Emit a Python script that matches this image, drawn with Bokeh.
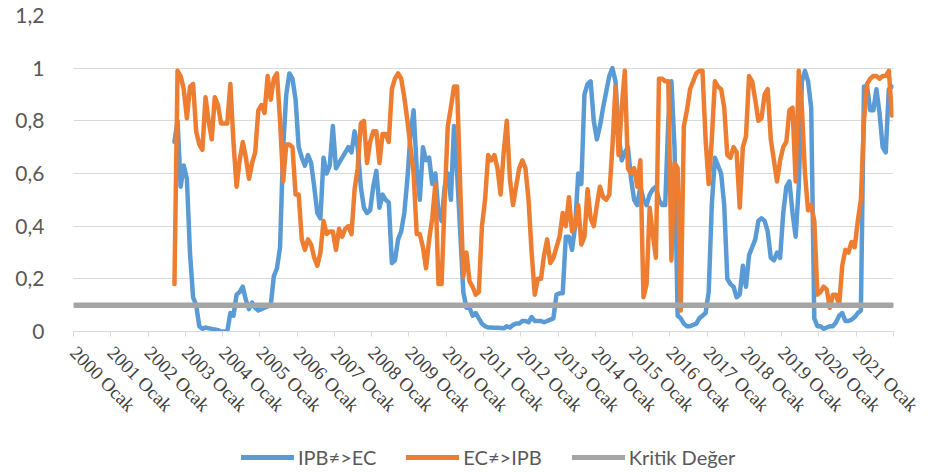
import math
from bokeh.plotting import figure
from bokeh.layouts import column
from bokeh.models import Range1d, FixedTicker, Legend, LegendItem
from bokeh.embed import file_html
from bokeh.resources import INLINE

# ---------------- data ----------------
years = list(range(2000, 2022))
tick_labels = [f"{y} Ocak" for y in years]
first_month = 32          # index of first observation (2002 Eylül), months counted from 2000 Ocak
n_months = 264            # 2000 Ocak ... 2021 Aralık

ipb_ec = [
    0.72, 0.80, 0.55, 0.63,                                                  # 2002 Eyl-Ara
    0.58, 0.30, 0.13, 0.10, 0.02, 0.01, 0.015, 0.012, 0.01, 0.008, 0.005, 0.0,  # 2003
    0.0, 0.0, 0.07, 0.06, 0.14, 0.15, 0.17, 0.12, 0.085, 0.11, 0.09, 0.08,       # 2004
    0.085, 0.09, 0.095, 0.10, 0.21, 0.24, 0.32, 0.70, 0.90, 0.98, 0.96, 0.88,    # 2005
    0.70, 0.66, 0.63, 0.67, 0.64, 0.55, 0.45, 0.43, 0.66, 0.60, 0.63, 0.78,      # 2006
    0.62, 0.64, 0.66, 0.68, 0.70, 0.68, 0.76, 0.70, 0.55, 0.47, 0.45, 0.46,      # 2007
    0.55, 0.61, 0.47, 0.52, 0.50, 0.49, 0.26, 0.27, 0.35, 0.38, 0.45, 0.58,      # 2008
    0.75, 0.84, 0.62, 0.50, 0.70, 0.65, 0.66, 0.56, 0.60, 0.45, 0.42, 0.55,      # 2009
    0.60, 0.50, 0.78, 0.60, 0.38, 0.15, 0.09, 0.09, 0.06, 0.07, 0.05, 0.03,      # 2010
    0.02, 0.015, 0.015, 0.014, 0.014, 0.013, 0.012, 0.02, 0.015, 0.025, 0.03, 0.03,  # 2011
    0.04, 0.04, 0.035, 0.055, 0.04, 0.04, 0.04, 0.035, 0.04, 0.045, 0.05, 0.14,  # 2012
    0.145, 0.145, 0.36, 0.36, 0.31, 0.40, 0.60, 0.56, 0.90, 0.94, 0.95, 0.80,    # 2013
    0.73, 0.78, 0.85, 0.91, 0.97, 1.0, 0.95, 0.75, 0.65, 0.68, 0.70, 0.58,       # 2014
    0.50, 0.48, 0.55, 0.50, 0.48, 0.52, 0.54, 0.55, 0.50, 0.48, 0.48, 0.80,      # 2015
    0.95, 0.70, 0.06, 0.05, 0.03, 0.02, 0.02, 0.025, 0.03, 0.05, 0.06, 0.07,     # 2016
    0.15, 0.48, 0.66, 0.63, 0.60, 0.48, 0.20, 0.18, 0.17, 0.13, 0.14, 0.25,      # 2017
    0.17, 0.29, 0.32, 0.35, 0.42, 0.43, 0.42, 0.38, 0.28, 0.27, 0.30, 0.28,      # 2018
    0.45, 0.55, 0.57, 0.45, 0.36, 0.55, 0.95, 0.99, 0.95, 0.85, 0.05, 0.02,      # 2019
    0.02, 0.01, 0.015, 0.02, 0.02, 0.035, 0.06, 0.07, 0.04, 0.04, 0.045, 0.055,  # 2020
    0.07, 0.08, 0.93, 0.93, 0.84, 0.84, 0.92, 0.83, 0.70, 0.68, 0.92, 0.93,      # 2021
]

ec_ipb = [
    0.18, 0.99, 0.97, 0.92,                                                  # 2002 Eyl-Ara
    0.81, 0.93, 0.94, 0.76, 0.71, 0.69, 0.89, 0.80, 0.73, 0.89, 0.86, 0.79,      # 2003
    0.79, 0.79, 0.94, 0.72, 0.55, 0.65, 0.72, 0.66, 0.58, 0.64, 0.68, 0.84,      # 2004
    0.86, 0.83, 0.97, 0.88, 0.96, 0.98, 0.80, 0.57, 0.71, 0.71, 0.70, 0.52,      # 2005
    0.52, 0.35, 0.31, 0.35, 0.33, 0.28, 0.25, 0.30, 0.42, 0.37, 0.38, 0.38,      # 2006
    0.31, 0.39, 0.36, 0.39, 0.40, 0.37, 0.54, 0.62, 0.79, 0.80, 0.64, 0.72,      # 2007
    0.76, 0.76, 0.64, 0.75, 0.75, 0.72, 0.92, 0.96, 0.98, 0.96, 0.89, 0.80,      # 2008
    0.70, 0.60, 0.37, 0.37, 0.32, 0.24, 0.35, 0.43, 0.56, 0.18, 0.18, 0.50,      # 2009
    0.78, 0.85, 0.93, 0.93, 0.55, 0.21, 0.30, 0.19, 0.17, 0.14, 0.15, 0.40,      # 2010
    0.50, 0.67, 0.65, 0.67, 0.62, 0.52, 0.68, 0.80, 0.58, 0.48, 0.55, 0.62,      # 2011
    0.65, 0.62, 0.50, 0.30, 0.14, 0.20, 0.20, 0.29, 0.35, 0.26, 0.28, 0.32,      # 2012
    0.36, 0.45, 0.40, 0.51, 0.38, 0.40, 0.48, 0.33, 0.36, 0.54, 0.43, 0.40,      # 2013
    0.48, 0.55, 0.51, 0.50, 0.52, 0.70, 0.93, 0.67, 0.85, 0.99, 0.62, 0.60,      # 2014
    0.62, 0.55, 0.65, 0.13, 0.18, 0.47, 0.37, 0.28, 0.96, 0.96, 0.95, 0.95,      # 2015
    0.27, 0.64, 0.62, 0.08, 0.78, 0.84, 0.92, 0.95, 0.98, 0.99, 0.99, 0.73,      # 2016
    0.56, 0.73, 0.95, 0.93, 0.92, 0.85, 0.67, 0.66, 0.70, 0.68, 0.47, 0.70,      # 2017
    0.74, 0.97, 0.95, 0.88, 0.80, 0.81, 0.90, 0.92, 0.73, 0.65, 0.57, 0.65,      # 2018
    0.70, 0.72, 0.84, 0.85, 0.57, 0.99, 0.85, 0.60, 0.46, 0.48, 0.42, 0.14,      # 2019
    0.15, 0.17, 0.16, 0.09, 0.14, 0.14, 0.10, 0.25, 0.31, 0.30, 0.34, 0.32,      # 2020
    0.42, 0.50, 0.80, 0.94, 0.96, 0.97, 0.97, 0.96, 0.97, 0.97, 0.99, 0.82,      # 2021
]

kritik_deger = 0.1

y_ticks = [0, 0.2, 0.4, 0.6, 0.8, 1.0, 1.2]
y_tick_labels = ["0", "0,2", "0,4", "0,6", "0,8", "1", "1,2"]

series_names = ["IPB≠>EC", "EC≠>IPB", "Kritik Değer"]
series_colors = ["#5b9bd5", "#ed7d31", "#a5a5a5"]

# ---------------- positions (category centres) ----------------
x_series = [first_month + k + 0.5 for k in range(len(ipb_ec))]
x_all = [k + 0.5 for k in range(n_months)]
y_crit = [kritik_deger] * n_months

W = 926
H_MAIN = 428
H_LEG = 42

# ---------------- main chart ----------------
p = figure(width=W, height=H_MAIN, output_backend="svg", toolbar_location=None,
           x_range=Range1d(0, n_months), y_range=Range1d(0, 1.2),
           min_border_left=73, min_border_right=W - 893, min_border_top=15,
           min_border_bottom=H_MAIN - 331)
p.outline_line_color = None
p.background_fill_color = "white"
p.border_fill_color = "white"

line_styles = dict(line_join="round", line_cap="round")
r1 = p.line(x_series, ipb_ec, line_color=series_colors[0], line_width=4.5, **line_styles)
r2 = p.line(x_series, ec_ipb, line_color=series_colors[1], line_width=4.5, **line_styles)
r3 = p.line(x_all, y_crit, line_color=series_colors[2], line_width=5.5, **line_styles)

# x axis
x_tick_pos = [12 * k for k in range(len(years) + 1)]
p.xaxis.ticker = FixedTicker(ticks=x_tick_pos)
overrides = {12 * k: lab for k, lab in enumerate(tick_labels)}
overrides[12 * len(years)] = ""
p.xaxis.major_label_overrides = overrides
p.xaxis.major_label_orientation = -math.pi / 4
p.xaxis.axis_line_color = "#d9d9d9"
p.xaxis.axis_line_width = 1
p.xaxis.major_tick_line_color = "#d9d9d9"
p.xaxis.major_tick_out = 5
p.xaxis.major_tick_in = 0
p.xaxis.minor_tick_line_color = None
p.xaxis.major_label_text_font = "Liberation Serif"
p.xaxis.major_label_text_font_size = "19px"
p.xaxis.major_label_text_color = "#404040"
p.xaxis.major_label_standoff = 13
p.xgrid.grid_line_color = None

# y axis
p.yaxis.ticker = FixedTicker(ticks=y_ticks)
p.yaxis.major_label_overrides = {t: l for t, l in zip(y_ticks, y_tick_labels)}
p.yaxis.axis_line_color = None
p.yaxis.major_tick_line_color = None
p.yaxis.minor_tick_line_color = None
p.yaxis.major_label_text_font = "Lato"
p.yaxis.major_label_text_font_size = "21px"
p.yaxis.major_label_text_color = "#595959"
p.yaxis.major_label_standoff = 23
p.ygrid.ticker = FixedTicker(ticks=y_ticks)
p.ygrid.grid_line_color = "#d9d9d9"
p.ygrid.grid_line_width = 1

# ---------------- legend strip ----------------
q = figure(width=W, height=H_LEG, output_backend="svg", toolbar_location=None,
           x_range=Range1d(-10, -9), y_range=Range1d(-10, -9),
           min_border_left=0, min_border_right=0, min_border_top=0, min_border_bottom=0,
           x_axis_location=None, y_axis_location=None)
q.outline_line_color = None
q.grid.grid_line_color = None
q.border_fill_color = "white"
l1 = q.line(x_series, ipb_ec, line_color=series_colors[0], line_width=5, **line_styles)
l2 = q.line(x_series, ec_ipb, line_color=series_colors[1], line_width=5, **line_styles)
l3 = q.line(x_all, y_crit, line_color=series_colors[2], line_width=5, **line_styles)

legend = Legend(items=[LegendItem(label=series_names[0], renderers=[l1]),
                       LegendItem(label=series_names[1], renderers=[l2]),
                       LegendItem(label=series_names[2], renderers=[l3])],
                location=(168, 1), orientation="horizontal",
                border_line_color=None, background_fill_alpha=0,
                padding=0, margin=0, spacing=30, glyph_width=53, glyph_height=16,
                label_standoff=4, label_text_font="Lato", label_text_font_size="20px",
                label_text_color="#595959", label_height=16)
q.add_layout(legend, "center")

open("out.html", "w").write(file_html(column(p, q), INLINE))
